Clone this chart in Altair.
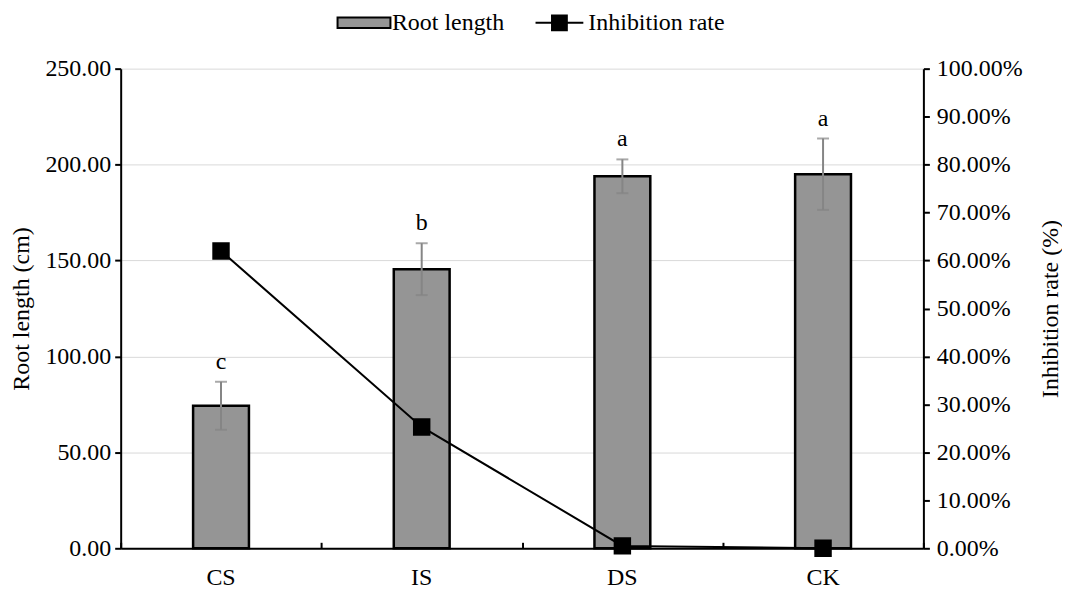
import altair as alt
import pandas as pd

groups = ["CS", "IS", "DS", "CK"]
root_length = [74.3, 145.5, 193.9, 195.0]
root_err = [12.5, 13.5, 8.8, 18.6]
letters = ["c", "b", "a", "a"]
inhibition = [0.620, 0.253, 0.005, 0.0]

df = pd.DataFrame({
    "group": groups,
    "root": root_length,
    "err": root_err,
    "letter": letters,
    "inhib": inhibition,
})
df["lo"] = df["root"] - df["err"]
df["hi"] = df["root"] + df["err"]
df["s1"] = "Root length"
df["s2"] = "Inhibition rate"

FONT = "Liberation Serif"
FS = 24
H = 481

xs = alt.Scale(paddingInner=0, paddingOuter=0)

yleft = alt.Scale(domain=[0, 250])

base = alt.Chart(df)

bars = base.mark_bar(size=56, stroke="black", strokeWidth=2.5).encode(
    x=alt.X("group:N", sort=groups, title=None, scale=xs,
            axis=alt.Axis(labelAngle=0, ticks=False, labelFontSize=FS, labelPadding=17,
                          domainColor="black", domainWidth=2, labelColor="black")),
    y=alt.Y("root:Q", scale=yleft, title="Root length (cm)",
            axis=alt.Axis(values=[0, 50, 100, 150, 200, 250], format=".2f", grid=True,
                          gridColor="#d9d9d9", gridWidth=1, tickSize=6, tickColor="black",
                          tickWidth=2, domainColor="black", domainWidth=2, labelPadding=4,
                          labelFontSize=FS, titleFontSize=FS, labelColor="black",
                          titleColor="black", titleFontWeight="normal", titlePadding=11)),
    fill=alt.Fill("s1:N", scale=alt.Scale(domain=["Root length"], range=["#959595"]),
                  legend=alt.Legend(title=None, orient="none", legendX=232, legendY=-58,
                                    symbolType="M-2.5,-0.5H2.5V0.5H-2.5Z", symbolSize=450,
                                    symbolStrokeColor="black", symbolStrokeWidth=2,
                                    labelOffset=16,
                                    labelFontSize=FS, labelColor="black", labelFont=FONT)),
)

rules = base.mark_rule(color="#858585", strokeWidth=2).encode(
    x=alt.X("group:N", sort=groups, title=None, scale=xs,
            axis=alt.Axis(orient="top", offset=-H, labels=False, domain=False, ticks=True,
                          tickBand="extent", tickSize=6, tickColor="black", tickWidth=2,
                          grid=False)),
    y=alt.Y("lo:Q", scale=yleft),
    y2="hi:Q",
)
caps_hi = base.mark_tick(color="#858585", size=12, thickness=2).encode(
    x=alt.X("group:N", sort=groups, axis=None),
    y=alt.Y("hi:Q", scale=yleft),
)
caps_lo = base.mark_tick(color="#858585", size=12, thickness=2).encode(
    x=alt.X("group:N", sort=groups, axis=None),
    y=alt.Y("lo:Q", scale=yleft),
)
labels = base.mark_text(dy=-13, baseline="alphabetic", fontSize=FS, font=FONT,
                        color="black").encode(
    x=alt.X("group:N", sort=groups, axis=None),
    y=alt.Y("hi:Q", scale=yleft),
    text="letter:N",
)

left = alt.layer(bars, rules, caps_hi, caps_lo, labels).resolve_axis(x="independent")

line = base.mark_line(color="black", strokeWidth=2,
                      point=alt.OverlayMarkDef(shape="square", size=240, filled=True,
                                               color="black")).encode(
    x=alt.X("group:N", sort=groups, axis=None),
    y=alt.Y("inhib:Q", scale=alt.Scale(domain=[0, 1]), title="Inhibition rate (%)",
            axis=alt.Axis(orient="right", values=[i / 10 for i in range(11)], format=".2%",
                          grid=False, tickSize=6, tickColor="black", tickWidth=2,
                          domainColor="black", domainWidth=2, labelFontSize=FS,
                          labelPadding=7,
                          titleFontSize=FS, labelColor="black", titleColor="black",
                          titleFontWeight="normal", titleAngle=270, titlePadding=40)),
    stroke=alt.Stroke("s2:N", scale=alt.Scale(domain=["Inhibition rate"], range=["black"]),
                      legend=alt.Legend(title=None, orient="none", legendX=428, legendY=-58,
                                        symbolType="M-2.26,0H2.26M-0.7,-0.7H0.7V0.7H-0.7Z",
                                        symbolSize=450, symbolFillColor="black",
                                        symbolStrokeWidth=2, labelOffset=17,
                                        labelFontSize=FS, labelColor="black", labelFont=FONT)),
)

chart = alt.layer(left, line).resolve_scale(
    y="independent", fill="independent", stroke="independent"
).resolve_axis(x="independent").properties(
    width=805, height=H,
    padding={"left": 2, "top": 2, "right": 0, "bottom": 0},
).configure(font=FONT).configure_view(stroke=None).configure_axis(
    labelFont=FONT, titleFont=FONT
)

chart.save("out.html", embed_options={"renderer": "svg", "actions": False})
